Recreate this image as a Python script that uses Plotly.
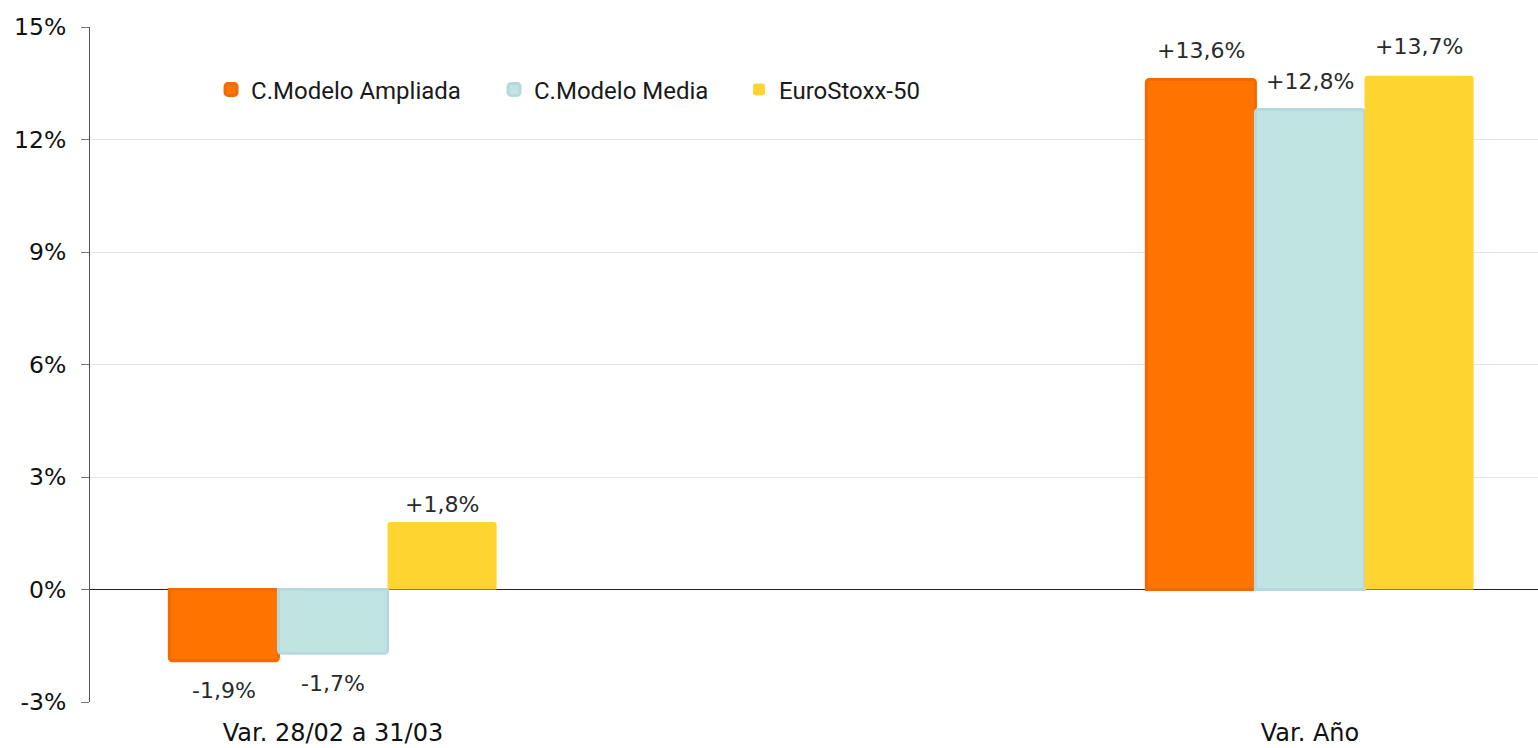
import plotly.graph_objects as go

categories = ["Var. 28/02 a 31/03", "Var. Año"]
series_names = ["C.Modelo Ampliada", "C.Modelo Media", "EuroStoxx-50"]
ampliada = [-1.9, 13.6]
media = [-1.7, 12.8]
eurostoxx = [1.8, 13.7]
y_ticks = [-3, 0, 3, 6, 9, 12, 15]
y_tick_labels = ["-3%", "0%", "3%", "6%", "9%", "12%", "15%"]

fills = ["#FF7300", "#C0E4E2", "#FDD430"]
borders = ["#F26A00", "#B5D9DD", "#FDD430"]
widths = [3, 3, 0]
legend_ids = ["legend", "legend2", "legend3"]
legend_x = [0.0836, 0.2790, 0.4482]
# vertical label offsets in px (per series, per category), styling only
label_shift = [[-15, 15], [-16, 14], [3, 15]]

FONT = "DejaVu Sans"
LEGEND_FONT = "Roboto"
BARGAP = 0.665


def fmt(v):
    return f"{v:+.1f}".replace(".", ",") + "%"


fig = go.Figure()
all_series = [ampliada, media, eurostoxx]
n = len(all_series)
group_w = 1 - BARGAP
bar_w = group_w / n
for i, (name, vals, fc, bc, lw, lg) in enumerate(zip(series_names, all_series, fills, borders, widths, legend_ids)):
    fig.add_trace(go.Bar(
        x=categories, y=vals, name=name, legend=lg,
        marker=dict(color=fc, line=dict(color=bc, width=lw), cornerradius=3),
    ))
    off = -group_w / 2 + bar_w * (i + 0.5)
    for ci, v in enumerate(vals):
        fig.add_annotation(
            x=ci + off, y=v, xref="x", yref="y", text=fmt(v), showarrow=False,
            yanchor="bottom" if v >= 0 else "top",
            yshift=label_shift[i][ci],
            font=dict(family=FONT, size=22, color="#2a2a2a"),
        )

layout_legends = {}
for lg, lx in zip(legend_ids, legend_x):
    layout_legends[lg] = dict(
        orientation="h", x=lx, y=0.907, xanchor="left", yanchor="middle",
        font=dict(family=LEGEND_FONT, size=24, color="#1a1a1a"),
        bgcolor="rgba(0,0,0,0)", itemwidth=30,
    )

fig.update_layout(
    width=1538, height=748,
    margin=dict(l=90, r=0, t=27, b=46),
    paper_bgcolor="white", plot_bgcolor="white",
    barmode="group", bargap=BARGAP, bargroupgap=0,
    font=dict(family=FONT, size=22, color="#1a1a1a"),
    showlegend=True,
    xaxis=dict(type="category", range=[-0.2487, 1.2334], showgrid=False,
               showline=False, ticks="", ticklabelstandoff=14, automargin=False,
               tickfont=dict(family=FONT, size=24, color="#111111")),
    yaxis=dict(range=[-3, 15], tickvals=y_ticks, ticktext=y_tick_labels,
               showgrid=True, gridcolor="#E3E3E3", gridwidth=1,
               zeroline=True, zerolinecolor="#222222", zerolinewidth=1,
               showline=True, linecolor="#555555", linewidth=1,
               ticks="outside", ticklen=8, tickcolor="#777777",
               ticklabelstandoff=10, automargin=False,
               tickfont=dict(family=FONT, size=23.5, color="#111111")),
    **layout_legends,
)

fig.write_html("out.html")
